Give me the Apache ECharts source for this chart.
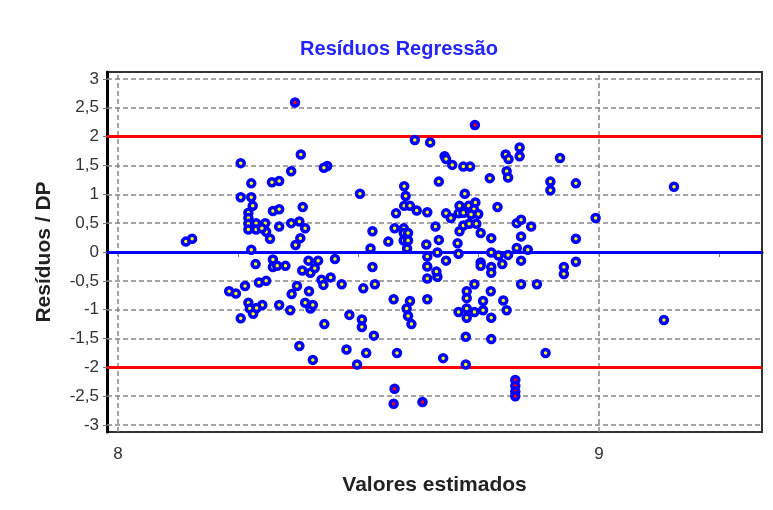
<!DOCTYPE html>
<html>
<head>
<meta charset="utf-8">
<script src="https://cdn.jsdelivr.net/npm/echarts@6/dist/echarts.min.js"></script>
<style>
  html, body { margin: 0; padding: 0; background: #fff; }
  #chart { width: 773px; height: 510px; }
</style>
</head>
<body>
<div id="chart"></div>
<script>
// valores estimados (eixo x) e resíduos padronizados (eixo y)
var estimados = [
    8.141, 8.154, 8.255, 8.380, 8.360, 8.277, 8.320, 8.335, 8.255, 8.277,
    8.280, 8.322, 8.335, 8.384, 8.271, 8.271, 8.271, 8.271, 8.287, 8.287,
    8.306, 8.308, 8.316, 8.299, 8.335, 8.360, 8.377, 8.277, 8.369, 8.322,
    8.286, 8.322, 8.331, 8.348, 8.383, 8.231, 8.245, 8.264, 8.293, 8.308,
    8.372, 8.361, 8.271, 8.274, 8.281, 8.300, 8.288, 8.255, 8.335, 8.358,
    8.377, 8.617, 8.649, 8.435, 8.428, 8.503, 8.595, 8.598, 8.595, 8.607,
    8.621, 8.578, 8.643, 8.389, 8.379, 8.529, 8.562, 8.525, 8.575, 8.594,
    8.594, 8.603, 8.594, 8.603, 8.601, 8.641, 8.396, 8.416, 8.451, 8.400,
    8.409, 8.423, 8.427, 8.442, 8.465, 8.510, 8.534, 8.529, 8.643, 8.643,
    8.643, 8.397, 8.389, 8.400, 8.405, 8.573, 8.607, 8.600, 8.603, 8.610,
    8.643, 8.481, 8.507, 8.507, 8.532, 8.429, 8.475, 8.516, 8.580, 8.405,
    8.497, 8.679, 8.682, 8.695, 8.718, 8.732, 8.667, 8.773, 8.806, 8.812,
    8.835, 8.835, 8.808, 8.811, 8.899, 8.899, 8.721, 8.710, 8.729, 8.743,
    8.740, 8.682, 8.692, 8.708, 8.718, 8.734, 8.749, 8.789, 8.660, 8.710,
    8.718, 8.730, 8.745, 8.754, 8.829, 8.838, 8.859, 8.667, 8.706, 8.776,
    8.838, 8.829, 8.852, 8.664, 8.708, 8.682, 8.664, 8.662, 8.754, 8.754,
    8.776, 8.791, 8.811, 8.776, 8.776, 8.799, 8.838, 8.741, 8.838, 8.871,
    8.725, 8.725, 8.725, 8.725, 8.708, 8.741, 8.759, 8.759, 8.775, 8.776,
    8.801, 8.808, 8.723, 8.776, 8.676, 8.723, 8.889, 8.919, 8.952, 9.156,
    8.993, 8.952, 8.927, 8.927, 8.952, 9.135,
    8.368, 8.742, 8.575, 8.573, 8.633, 8.826, 8.826, 8.826, 8.826
];
var residuos = [
    0.18, 0.23, 1.54, 1.69, 1.40, 1.19, 1.21, 1.23, 0.95, 0.95,
    0.80, 0.71, 0.74, 0.78, 0.68, 0.59, 0.49, 0.39, 0.50, 0.39,
    0.50, 0.35, 0.23, 0.41, 0.44, 0.50, 0.53, 0.04, 0.12, -0.13,
    -0.21, -0.26, -0.24, -0.24, -0.32, -0.68, -0.72, -0.59, -0.53, -0.50,
    -0.59, -0.73, -0.88, -0.98, -1.07, -0.92, -0.97, -1.15, -0.92, -1.01,
    -1.63, 1.94, 1.90, 1.49, 1.46, 1.01, 1.14, 0.97, 0.80, 0.80,
    0.72, 0.67, 0.69, 0.41, 0.24, 0.36, 0.18, 0.06, 0.41, 0.41,
    0.33, 0.33, 0.20, 0.20, 0.06, 0.13, -0.15, -0.15, -0.12, -0.36,
    -0.28, -0.48, -0.57, -0.44, -0.56, -0.63, -0.56, -0.26, -0.08, -0.25,
    -0.46, -0.68, -0.88, -0.98, -0.92, -0.82, -0.85, -0.98, -1.11, -1.25,
    -0.82, -1.09, -1.17, -1.30, -1.45, -1.25, -1.69, -1.75, -1.75, -1.87,
    -1.95, 1.66, 1.61, 1.51, 1.48, 1.48, 1.22, 1.28, 1.69, 1.61,
    1.81, 1.66, 1.40, 1.29, 1.22, 1.07, 1.01, 0.80, 0.80, 0.86,
    0.74, 0.67, 0.59, 0.67, 0.68, 0.65, 0.66, 0.78, 0.44, 0.36,
    0.46, 0.49, 0.49, 0.33, 0.50, 0.56, 0.44, 0.21, 0.15, 0.24,
    0.27, 0.07, 0.04, -0.01, -0.03, -0.15, -0.43, -0.34, -0.18, -0.24,
    -0.01, -0.06, -0.05, -0.26, -0.36, -0.21, -0.15, -0.56, -0.56, -0.56,
    -0.68, -0.80, -0.98, -1.14, -1.04, -1.04, -0.85, -1.01, -0.68, -1.14,
    -0.84, -1.01, -1.47, -1.51, -1.84, -1.95, -1.75, 1.63, 1.19, 1.13,
    0.59, 0.23, -0.26, -0.38, -0.17, -1.18,
    2.59, 2.20, -2.37, -2.63, -2.60, -2.22, -2.32, -2.42, -2.50
];

// linhas de referência: limites ±2 e o zero
var limites = [-2, 2];
var linhaZero = 0;

// marcas dos eixos
var yTicks = [-3, -2.5, -2, -1.5, -1, -0.5, 0, 0.5, 1, 1.5, 2, 2.5, 3];
var xLabels = [8, 9];
var xTicks = [8, 8.25, 8.5, 8.75, 9, 9.25];

var pontos = estimados.map(function(x, i) {
    return [x, residuos[i]];
});

var myChart = echarts.init(document.getElementById('chart'));

var option = {
    backgroundColor: '#fff',
    animation: false,
    title: {
        text: 'Resíduos Regressão',
        left: 394,
        top: 34,
        textAlign: 'center',
        textStyle: {
            color: '#2323ff',
            fontFamily: 'Liberation Sans',
            fontWeight: 'bold',
            fontSize: 20
        }
    },
    grid: {
        left: 107,
        right: 11,
        top: 72,
        bottom: 78,
        show: true,
        borderColor: '#333',
        borderWidth: 2
    },
    xAxis: {
        type: 'value',
        min: 7.977,
        max: 9.339,
        name: 'Valores estimados',
        nameLocation: 'middle',
        nameGap: 43,
        nameTextStyle: {
            color: '#222',
            fontFamily: 'Liberation Sans',
            fontWeight: 'bold',
            fontSize: 21
        },
        axisLine: { show: true, lineStyle: { color: '#000', width: 3 } },
        axisTick: {
            show: true,
            length: 5,
            customValues: xTicks,
            lineStyle: { color: '#777', width: 1 }
        },
        axisLabel: {
            customValues: xLabels,
            margin: 14,
            color: '#333',
            fontFamily: 'Liberation Sans',
            fontSize: 17
        },
        splitLine: { show: false }
    },
    yAxis: {
        type: 'value',
        min: -3.12,
        max: 3.12,
        name: 'Resíduos / DP',
        nameLocation: 'middle',
        nameGap: 52,
        nameTextStyle: {
            color: '#222',
            fontFamily: 'Liberation Sans',
            fontWeight: 'bold',
            fontSize: 21
        },
        axisLine: { show: true, lineStyle: { color: '#000', width: 3 } },
        axisTick: {
            show: true,
            length: 4,
            customValues: yTicks,
            lineStyle: { color: '#777', width: 1 }
        },
        axisLabel: {
            customValues: yTicks,
            margin: 8,
            color: '#333',
            fontFamily: 'Liberation Sans',
            fontSize: 17,
            formatter: function(v) {
                return String(v).replace('.', ',');
            }
        },
        splitLine: { show: false }
    },
    series: [{
        // grade tracejada
        type: 'scatter',
        data: [],
        silent: true,
        markLine: {
            silent: true,
            symbol: 'none',
            label: { show: false },
            lineStyle: { color: '#888', type: [5, 3], width: 1.5 },
            data: yTicks.filter(function(v) {
                return v !== 0 && Math.abs(v) !== 2;
            }).map(function(v) {
                return { yAxis: v };
            }).concat(xLabels.map(function(v) {
                return { xAxis: v };
            }))
        }
    }, {
        // limites ±2 e zero
        type: 'scatter',
        data: [],
        silent: true,
        markLine: {
            silent: true,
            symbol: 'none',
            label: { show: false },
            data: limites.map(function(v) {
                return { yAxis: v, lineStyle: { color: '#ff0000', type: 'solid', width: 3 } };
            }).concat([{ yAxis: linhaZero, lineStyle: { color: '#0000ff', type: 'solid', width: 3 } }])
        }
    }, {
        name: 'Resíduos',
        type: 'scatter',
        data: pontos,
        symbol: 'circle',
        symbolSize: 7,
        itemStyle: {
            color: function(p) {
                return Math.abs(p.value[1]) > 2 ? '#ff0000' : '#ffff00';
            },
            borderColor: '#0000ff',
            borderWidth: 3.5,
            opacity: 1
        },
        z: 5
    }]
};
myChart.setOption(option);
</script>
</body>
</html>
